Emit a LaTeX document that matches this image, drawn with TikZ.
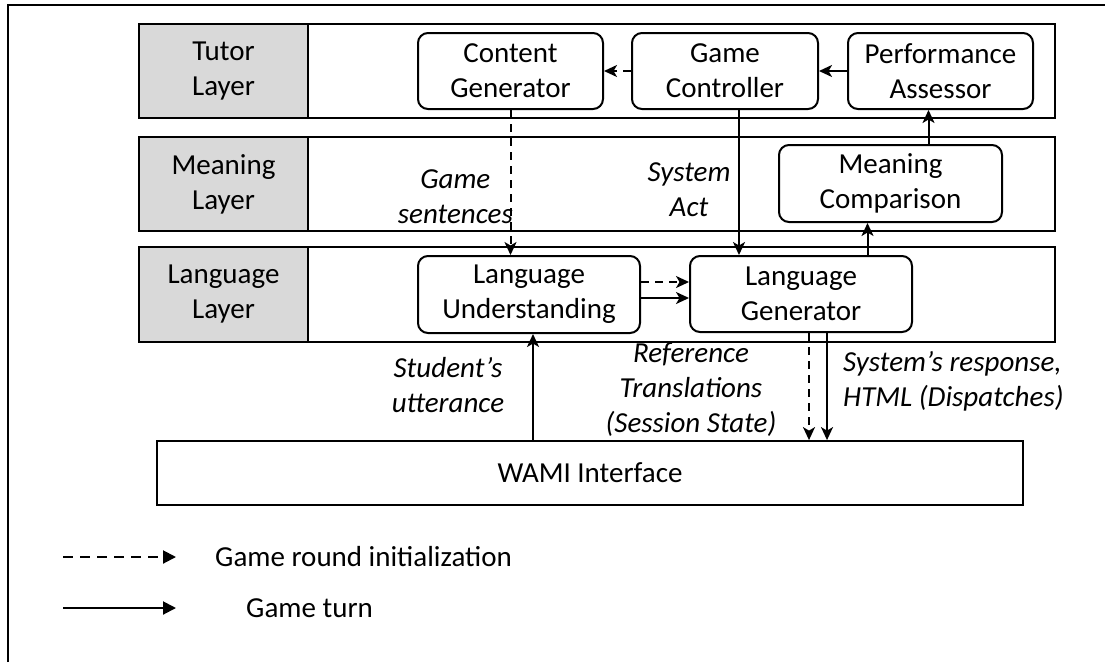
\documentclass[tikz,border=0pt]{standalone}
\usepackage{fontspec}
\setmainfont{Carlito}
\usetikzlibrary{arrows.meta,calc}
\begin{document}
\begin{tikzpicture}[x=1pt,y=-1pt,
  every node/.style={font=\fontsize{29}{35}\selectfont},
  band/.style={draw=black,line width=1.8pt},
  graybox/.style={draw=black,line width=1.8pt,fill=gray!30,align=center,inner sep=0pt},
  comp/.style={draw=black,line width=2pt,rounded corners=10pt,align=center,inner sep=0pt},
  lbl/.style={font=\fontsize{29}{35}\selectfont\itshape,inner sep=0pt},
  flow/.style={line width=2pt,-{Stealth[length=13pt,width=12pt,inset=3.5pt]}},
  initflow/.style={flow,dashed,dash pattern=on 8pt off 6pt},
  legarrow/.style={line width=2pt,-{Triangle[length=13pt,width=13pt]}}
]
\useasboundingbox (0,0) rectangle (1105,662);
% outer frame (cropped on right and bottom)
\draw[line width=2.2pt] (8,662) -- (8,5) -- (1105,5);
% layer bands
\draw[band] (308,24) rectangle (1055,118);
\draw[band] (308,137) rectangle (1055,231);
\draw[band] (308,247) rectangle (1055,342);
\node[graybox,minimum width=169pt,minimum height=94pt] (tutor) at (223.5,71) {Tutor\\Layer};
\node[graybox,minimum width=169pt,minimum height=94pt] (meaning) at (223.5,184) {Meaning\\Layer};
\node[graybox,minimum width=169pt,minimum height=95pt] (language) at (223.5,294.5) {Language\\Layer};
% components
\node[comp,minimum width=185pt,minimum height=76pt] (CG) at (510.5,71) {Content\\Generator};
\node[comp,minimum width=186pt,minimum height=76pt] (GC) at (725,71) {Game\\Controller};
\node[comp,minimum width=185pt,minimum height=76pt] (PA) at (940.5,71) {Performance\\Assessor};
\node[comp,minimum width=223pt,minimum height=77pt] (MC) at (890.5,183.5) {Meaning\\Comparison};
\node[comp,minimum width=222pt,minimum height=77pt] (LU) at (529,294.5) {Language\\Understanding};
\node[comp,minimum width=222pt,minimum height=76pt] (LG) at (801,294) {Language\\Generator};
\node[draw=black,line width=1.8pt,minimum width=866pt,minimum height=64pt,inner sep=0pt] (WAMI) at (590,473) {WAMI Interface};
% connectors
\draw[initflow] (GC.west) -- (CG.east);
\draw[flow] (PA.west) -- (GC.east);
\draw[initflow] (CG.south) -- (CG.south |- LU.north);
\draw[flow] ([xshift=14pt]GC.south) -- ([xshift=14pt]GC.south |- LG.north);
\draw[flow] ([xshift=-23pt]MC.south |- LG.north) -- ([xshift=-23pt]MC.south);
\draw[flow] ([xshift=-12pt]PA.south |- MC.north) -- ([xshift=-12pt]PA.south);
\draw[initflow] ([yshift=12.5pt]LU.east) -- ([yshift=12.5pt]LU.east -| LG.west);
\draw[flow] ([yshift=-3.5pt]LU.east) -- ([yshift=-3.5pt]LU.east -| LG.west);
\draw[flow] ([xshift=4pt]LU.south |- WAMI.north) -- ([xshift=4pt]LU.south);
\draw[initflow] ([xshift=8pt]LG.south) -- ([xshift=8pt]LG.south |- WAMI.north);
\draw[flow] ([xshift=26pt]LG.south) -- ([xshift=26pt]LG.south |- WAMI.north);
% labels
\node[lbl,anchor=east,align=center] (lgs) at (513,197) {Game\\sentences};
\node[lbl,align=center] (lsa) at (689,190) {System\\Act};
\node[lbl,align=center] (lsu) at (448,385) {Student’s\\utterance};
\node[lbl,align=center] (lrt) at (691,390) {Reference\\Translations\\(Session State)};
\node[lbl,anchor=west,align=left] (lsr) at (843,381) {System’s response,\\HTML (Dispatches)};
% legend
\coordinate (d1) at (63,557); \coordinate (d2) at (176,557);
\coordinate (s1) at (63,608); \coordinate (s2) at (176,608);
\draw[legarrow,dashed,dash pattern=on 10pt off 7pt] (d1) -- (d2);
\draw[legarrow] (s1) -- (s2);
\node[anchor=west,inner sep=0pt] (leg1) at (215,557) {Game round initialization};
\node[anchor=west,inner sep=0pt] (leg2) at (246,608) {Game turn};
\end{tikzpicture}
\end{document}
